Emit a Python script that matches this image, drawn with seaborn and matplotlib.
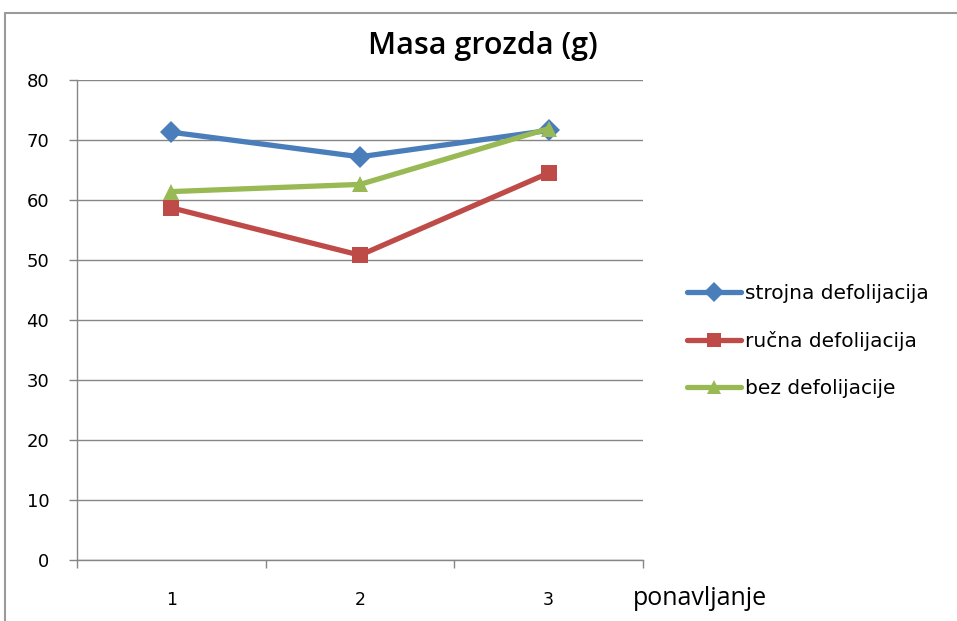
import pandas as pd
import matplotlib.pyplot as plt
import seaborn as sns
from matplotlib.lines import Line2D

ponavljanje = [1, 2, 3]
strojna = [71.3, 67.2, 71.6]
rucna = [58.7, 50.8, 64.5]
bez = [61.4, 62.6, 71.9]
serije = ['strojna defolijacija', 'ručna defolijacija', 'bez defolijacije']
boje = ['#4A7EBB', '#BE4B48', '#98B954']
markeri = ['D', 's', '^']

data = pd.DataFrame({
    'ponavljanje': ponavljanje * 3,
    'masa': strojna + rucna + bez,
    'serija': [serije[0]] * 3 + [serije[1]] * 3 + [serije[2]] * 3,
})

sns.set_style('white')
plt.rcParams['font.family'] = ['DejaVu Sans']
plt.rcParams['text.color'] = 'black'
plt.rcParams['xtick.labelcolor'] = 'black'
plt.rcParams['ytick.labelcolor'] = 'black'

fig = plt.figure(figsize=(9.57, 6.21), dpi=100)
ax = fig.add_axes([77 / 957, 61 / 621, 566 / 957, 480 / 621])

sns.lineplot(data=data, x='ponavljanje', y='masa', hue='serija', style='serija',
             palette=boje, markers=markeri, dashes=False, linewidth=3.8,
             markersize=11, markeredgewidth=0, ax=ax, legend=False)

ax.set_xlim(0.5, 3.5)
ax.set_ylim(0, 80)
ax.set_yticks(range(0, 81, 10))
ax.yaxis.grid(True, color='#868686', linewidth=1)
ax.set_axisbelow(True)
ax.set_xticks(ponavljanje)
ax.set_xticks([0.5, 1.5, 2.5, 3.5], minor=True)
ax.tick_params(axis='x', which='major', length=0, pad=22, labelsize=12.5)
ax.tick_params(axis='x', which='minor', length=6, width=1, color='#868686', direction='out', bottom=True)
ax.tick_params(axis='y', length=6, width=1, color='#868686', direction='out', left=True, labelsize=13, pad=14)
for s in ['top', 'right']:
    ax.spines[s].set_visible(False)
for s in ['left', 'bottom']:
    ax.spines[s].set_color('#868686')
    ax.spines[s].set_linewidth(1)
ax.set_xlabel('')
ax.set_ylabel('')
ax.text(3.447, -6.4, 'ponavljanje', fontsize=18, va='center', ha='left', family='Open Sans')
fig.text(483 / 957, 1 - 46 / 621, 'Masa grozda (g)', fontsize=22, fontweight='semibold',
         family='Open Sans', ha='center', va='center')

handles = [Line2D([0], [0], color=c, marker=m, linewidth=3.8, markersize=10, markeredgewidth=0)
           for c, m in zip(boje, markeri)]
ax.legend(handles, serije, loc='center left', bbox_to_anchor=(1.045, 0.456), frameon=False,
          fontsize=14.5, handlelength=2.7, handletextpad=0.2, labelspacing=1.4)

fig.add_artist(Line2D([5 / 957, 5 / 957], [0, 1 - 13 / 621], color='#9a9a9a', linewidth=1.5))
fig.add_artist(Line2D([5 / 957, 1], [1 - 13 / 621, 1 - 13 / 621], color='#9a9a9a', linewidth=1.5))

fig.savefig('out.png', dpi=100)
